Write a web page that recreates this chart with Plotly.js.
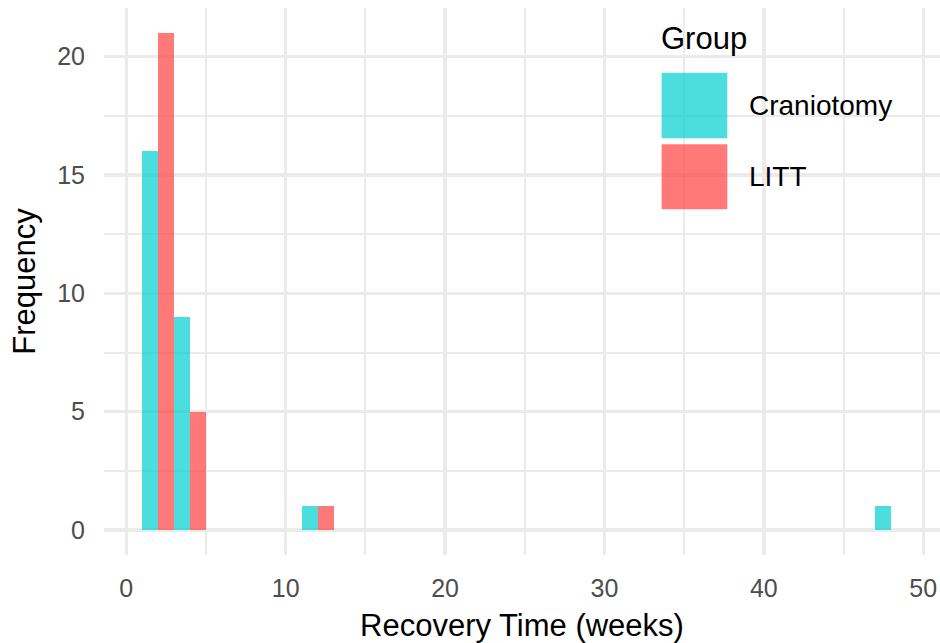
<!DOCTYPE html>
<html>
<head>
<meta charset="utf-8">
<script src="https://cdn.plot.ly/plotly-3.0.1.min.js"></script>
<style>
  html, body { margin: 0; padding: 0; background: #ffffff; }
  #chart { width: 940px; height: 643px; }
</style>
</head>
<body>
<div id="chart"></div>
<script>
// Histogram bins (centres, bin width = 2 weeks) and counts per group
const binCenters = [2, 4, 12, 48];
const craniotomyCounts = [16, 9, 1, 1];
const littCounts = [21, 5, 1, 0];
const groupNames = ["Craniotomy", "LITT"];
const groupColors = ["rgba(0,206,209,0.7)", "rgba(255,64,64,0.7)"];
const xTickVals = [0, 10, 20, 30, 40, 50];
const yTickVals = [0, 5, 10, 15, 20];

const FONT = "Liberation Sans, Arial, Helvetica, sans-serif";

const traces = [
  {
    type: "bar", name: groupNames[0], x: binCenters, y: craniotomyCounts,
    width: 1, offset: -1,
    marker: { color: groupColors[0], line: { width: 0 } },
    showlegend: false, hoverinfo: "x+y+name"
  },
  {
    type: "bar", name: groupNames[1], x: binCenters, y: littCounts,
    width: 1, offset: 0,
    marker: { color: groupColors[1], line: { width: 0 } },
    showlegend: false, hoverinfo: "x+y+name"
  }
];

// manual ggplot-style legend (big keys) in paper coordinates
const keyX0 = 0.667, keyX1 = 0.7456;
const keyY = [[0.7618, 0.8817], [0.632, 0.7508]];
const shapes = groupNames.map((g, i) => ({
  type: "rect", xref: "paper", yref: "paper",
  x0: keyX0, x1: keyX1, y0: keyY[i][0], y1: keyY[i][1],
  fillcolor: groupColors[i], line: { width: 0 }, layer: "above"
}));
const annotations = [
  { text: "Group", xref: "paper", yref: "paper", x: 0.664, y: 0.944,
    xanchor: "left", yanchor: "middle", showarrow: false,
    font: { family: FONT, size: 31, color: "#000000" } }
].concat(groupNames.map((g, i) => ({
  text: g, xref: "paper", yref: "paper", x: 0.7691,
  y: (keyY[i][0] + keyY[i][1]) / 2,
  xanchor: "left", yanchor: "middle", showarrow: false,
  font: { family: FONT, size: 28, color: "#000000" }
})));

const layout = {
  width: 940, height: 643,
  margin: { l: 104, r: 0, t: 8, b: 88 },
  paper_bgcolor: "#ffffff", plot_bgcolor: "#ffffff",
  barmode: "overlay", bargap: 0,
  font: { family: FONT },
  xaxis: {
    range: [-1.4, 51.05], autorange: false,
    tickmode: "array", tickvals: xTickVals, ticktext: xTickVals.map(String),
    ticks: "", showline: false, zeroline: false,
    showgrid: true, gridcolor: "#EBEBEB", gridwidth: 3.4,
    minor: { dtick: 5, tick0: 0, showgrid: true, gridcolor: "#EBEBEB", gridwidth: 2, ticks: "" },
    tickfont: { family: FONT, size: 25, color: "#4D4D4D" },
    ticklabelstandoff: 16,
    title: { text: "Recovery Time (weeks)", font: { family: FONT, size: 31, color: "#000000" }, standoff: 14 },
    automargin: false
  },
  yaxis: {
    range: [-1.05, 22.05], autorange: false,
    tickmode: "array", tickvals: yTickVals, ticktext: yTickVals.map(String),
    ticks: "", showline: false, zeroline: false,
    showgrid: true, gridcolor: "#EBEBEB", gridwidth: 3.4,
    minor: { dtick: 2.5, tick0: 0, showgrid: true, gridcolor: "#EBEBEB", gridwidth: 2, ticks: "" },
    tickfont: { family: FONT, size: 25, color: "#4D4D4D" },
    ticklabelstandoff: 18,
    title: { text: "Frequency", font: { family: FONT, size: 31, color: "#000000" }, standoff: 12 },
    automargin: false
  },
  shapes: shapes,
  annotations: annotations,
  showlegend: false
};

Plotly.newPlot("chart", traces, layout, { displayModeBar: false, staticPlot: true });
</script>
</body>
</html>
